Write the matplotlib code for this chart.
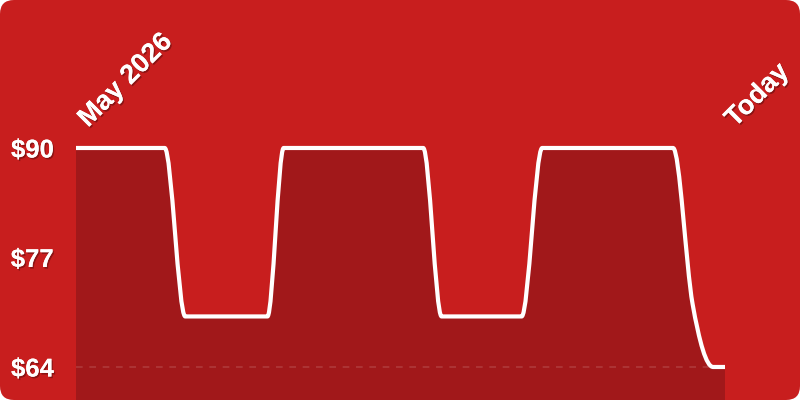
import matplotlib
matplotlib.use("Agg")
import matplotlib.pyplot as plt
import matplotlib.patheffects as pe
import numpy as np
from matplotlib.patches import FancyBboxPatch, PathPatch
from matplotlib.path import Path
from matplotlib.transforms import IdentityTransform

plt.rcParams["font.family"] = ["Liberation Sans", "DejaVu Sans"]

# price history (days since start, price in $)
days = [0, 8.2, 10.1, 17.7, 19.2, 32.1, 33.8, 41.2, 43.1, 55.2, 57.0, 58.9, 60.0]
price = [90, 90, 70, 70, 90, 90, 70, 70, 90, 90, 71.5, 64, 64]
tick_vals = [90, 77, 64]
tick_labels = ["$90", "$77", "$64"]
start_label = "May 2026"
end_label = "Today"

bg = "#C81E1E"
fill_c = "#A1181A"
line_c = "white"


def monotone_path(x, y):
    """cubic bezier path with monotone tangents (like d3 curveMonotoneX)"""
    x = np.asarray(x, float)
    y = np.asarray(y, float)
    h = np.diff(x)
    s = np.diff(y) / h
    t = np.zeros_like(x)
    t[0], t[-1] = s[0], s[-1]
    for i in range(1, len(x) - 1):
        p = (s[i - 1] * h[i] + s[i] * h[i - 1]) / (h[i - 1] + h[i])
        t[i] = (np.sign(s[i - 1]) + np.sign(s[i])) * min(
            abs(s[i - 1]), abs(s[i]), 0.5 * abs(p)
        )
    verts = [(x[0], y[0])]
    codes = [Path.MOVETO]
    for i in range(len(h)):
        d = h[i] / 3
        verts += [
            (x[i] + d, y[i] + d * t[i]),
            (x[i + 1] - d, y[i + 1] - d * t[i + 1]),
            (x[i + 1], y[i + 1]),
        ]
        codes += [Path.CURVE4] * 3
    return verts, codes


fig = plt.figure(figsize=(8, 4), dpi=100, facecolor="white")
fig.patches.append(
    FancyBboxPatch(
        (0, 0), 800, 400,
        boxstyle="round,pad=0,rounding_size=14",
        transform=IdentityTransform(),
        facecolor=bg, edgecolor="none", zorder=-10,
    )
)

ax = fig.add_axes([76 / 800, 0, 649 / 800, 1])
ax.set_zorder(1)
ax.patch.set_alpha(0)
ax.set_xlim(days[0], days[-1])
ymin, ymax = 60.08, 107.57
ax.set_ylim(ymin, ymax)

verts, codes = monotone_path(days, price)

# area under the curve
fverts = verts + [(days[-1], ymin), (days[0], ymin), verts[0]]
fcodes = codes + [Path.LINETO, Path.LINETO, Path.CLOSEPOLY]
ax.add_patch(PathPatch(Path(fverts, fcodes), facecolor=fill_c, edgecolor="none", zorder=1))

# baseline dashed
ax.axhline(tick_vals[-1], color="white", alpha=0.14, lw=1.2, ls=(0, (4, 4)), zorder=2)

# price line
ax.add_patch(
    PathPatch(
        Path(verts, codes), facecolor="none", edgecolor=line_c,
        lw=3.0, capstyle="round", joinstyle="round", zorder=3,
    )
)

shadow = [pe.withSimplePatchShadow(offset=(1, -1.2), shadow_rgbFace="black", alpha=0.3), pe.Normal()]

ax.set_yticks(tick_vals, tick_labels)
ax.set_xticks([])
ax.tick_params(axis="y", length=0, pad=16, labelsize=18.5, labelcolor="white")
for lbl in ax.get_yticklabels():
    lbl.set_fontweight("bold")
    lbl.set_path_effects(shadow)
for sp in ax.spines.values():
    sp.set_visible(False)

kw = dict(
    textcoords="offset pixels", rotation=45, rotation_mode="anchor",
    ha="left", va="baseline", fontsize=19.5, fontweight="bold",
    color="white", path_effects=shadow, annotation_clip=False,
)
ax.annotate(start_label, xy=(days[0], tick_vals[0]), xytext=(12, 20), **kw)
ax.annotate(end_label, xy=(days[-1], tick_vals[0]), xytext=(10, 20), **kw)

fig.savefig("out.png", dpi=100, facecolor="white")
